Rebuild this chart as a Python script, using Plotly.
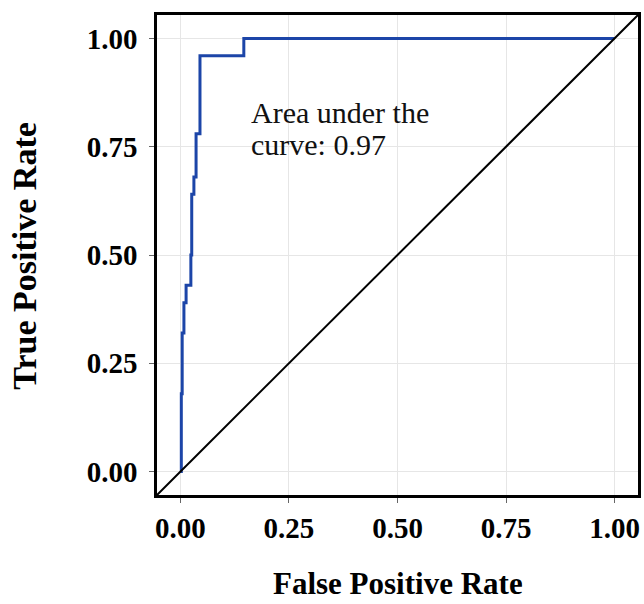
import plotly.graph_objects as go

# ROC curve points (false positive rate, true positive rate), step path
fpr = [0.0, 0.002, 0.004, 0.008, 0.013, 0.024, 0.026, 0.031, 0.036, 0.045, 0.146, 1.0]
tpr = [0.0, 0.18, 0.32, 0.39, 0.43, 0.50, 0.64, 0.68, 0.78, 0.96, 1.0, 1.0]

tick_vals = [0, 0.25, 0.5, 0.75, 1.0]
tick_text = ["0.00", "0.25", "0.50", "0.75", "1.00"]
auc_text_lines = ["Area under the", "curve: 0.97"]
x_title = "False Positive Rate"
y_title = "True Positive Rate"

FONT = "Liberation Serif, Times New Roman, serif"
rng = [-0.054, 1.054]

fig = go.Figure()
fig.add_trace(go.Scatter(
    x=fpr, y=tpr, mode="lines", line=dict(color="#1c45a8", width=3, shape="hv"),
    showlegend=False, hoverinfo="skip"))

# reference diagonal y = x across the whole panel (equal axis ranges)
fig.add_shape(type="line", xref="x domain", yref="y domain", x0=0, y0=0, x1=1, y1=1,
              line=dict(color="black", width=2))

fig.add_annotation(x=0.157, y=0.83, xref="x", yref="y", text=auc_text_lines[0],
                   showarrow=False, xanchor="left", yanchor="middle", height=28,
                   font=dict(family=FONT, size=30, color="#111"))
fig.add_annotation(x=0.157, y=0.757, xref="x", yref="y", text=auc_text_lines[1],
                   showarrow=False, xanchor="left", yanchor="middle", height=28,
                   font=dict(family=FONT, size=30, color="#111"))

# axis titles
fig.add_annotation(x=0.5, y=-0.183, xref="paper", yref="paper", text=x_title,
                   showarrow=False, xanchor="center", yanchor="middle", height=32,
                   font=dict(family=FONT, size=31, color="black", weight="bold"))
fig.add_annotation(x=-0.275, y=0.498, xref="paper", yref="paper", text=y_title,
                   showarrow=False, xanchor="center", yanchor="middle", textangle=-90,
                   font=dict(family=FONT, size=34, color="black", weight="bold"))

axis_common = dict(
    range=rng, tickvals=tick_vals, ticktext=tick_text, automargin=False,
    showgrid=True, gridcolor="#e6e6e6", gridwidth=1, zeroline=False,
    showline=True, linecolor="black", linewidth=2.5, mirror=True,
    ticks="outside", ticklen=5, tickwidth=1, tickcolor="#666",
    tickfont=dict(family=FONT, size=29, color="black", weight="bold"),
)

fig.update_layout(
    width=644, height=604,
    margin=dict(l=157, r=6, t=15, b=109),
    paper_bgcolor="white", plot_bgcolor="white",
    xaxis=dict(**axis_common),
    yaxis=dict(**axis_common, ticklabelstandoff=6),
)

fig.write_html("out.html", config={"displayModeBar": False},
               post_script="document.body.style.margin='0';")
